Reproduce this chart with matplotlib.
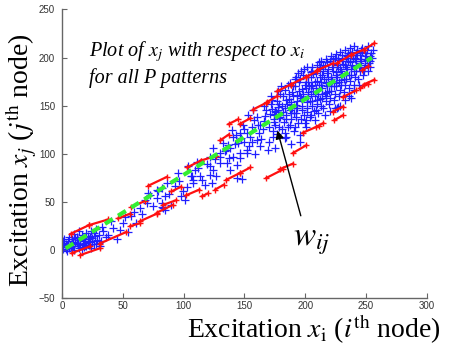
import matplotlib
matplotlib.use('Agg')
import matplotlib.pyplot as plt

# ---- data ----
# blue points near the origin
origin_x = [1, 2, 3, 4, 5, 6, 7, 8, 9, 10,
            11, 12, 13, 14, 15, 16, 17, 18, 19, 20,
            21, 22, 23, 24, 25, 26, 27, 28, 29, 30,
            2, 4, 6, 8, 10, 12, 14, 16, 18, 20,
            22, 24, 26, 28, 30, 32, 34, 36, 3, 7,
            11, 15, 19, 23, 1, 5, 9, 13, 17, 21,
            25, 33, 31, 0, 0.5]
origin_y = [3, 8, 1, 5, 10, 2, 7, 12, 4, 0,
            9, 14, 6, 2, 11, 16, 7, 3, 12, 18,
            9, 5, 14, 20, 10, 6, 15, 22, 11, 8,
            12, -1, 14, 4, 17, 8, 20, 1, 10, 4,
            12, 2, 18, 6, 16, 10, 20, 14, 6, 3,
            13, 5, 8, 9, 10, 4, 9, 11, 13, 15,
            13, 24, 4, 6, 1]

# sparse points in the middle
mid_x = [38, 42, 45, 47.7, 50, 54.5, 57, 61, 64, 66,
         69.6, 71, 72, 75, 78, 78, 79, 82, 82, 82,
         83, 84.7, 84.7, 88, 90, 93, 96, 99.7, 101, 102.5,
         104, 105.8, 106.6, 108, 108, 109, 112, 113.5, 115, 117.6,
         121.7, 121.7, 121.7, 123, 124, 124.4, 127, 130, 130, 130,
         40, 52, 59, 68, 86, 95, 98, 111, 119, 126]
mid_y = [16, 23, 12, 21, 28, 19, 36, 28, 44, 38,
         49, 59, 57.6, 45.5, 54, 63, 61, 64.5, 45, 49,
         43.8, 42, 56, 58, 47, 67, 72, 61, 52, 66,
         87, 76.6, 76.6, 69.7, 73, 83.5, 85, 76.6, 73, 68,
         78, 87, 97, 69.7, 83.5, 106, 76.6, 90.5, 97, 100.8,
         30, 35, 40, 52, 70, 80, 56, 92, 90, 95]

# medium density 130-170
upper_x = [132.6, 134, 135, 135.4, 136.8, 138, 138, 141, 141, 143.5,
           143.6, 145, 146, 146, 146, 148, 152, 152, 152, 156,
           157, 160, 163, 167, 168, 169.6, 150, 155, 158, 162,
           165, 140, 137, 149, 154, 160, 164, 166, 144, 159,
           142, 150, 156, 161, 166, 153, 147, 163]
upper_y = [111, 102.5, 104, 90.5, 109, 106, 83.5, 118, 97, 120,
           75, 111, 121.6, 100.8, 95.6, 74, 121.6, 100.8, 104, 128.4,
           145.7, 114.6, 130, 139, 145.7, 104, 112, 118, 135, 122,
           126, 125, 96, 130, 108, 138, 115, 150, 88, 100,
           110, 126, 112, 130, 134, 140, 116, 108]

# dense cloud 170-257
cloud_x = [170.5, 171.2, 172, 173.4, 171.8, 174, 172.6, 170,
           175.5, 176.2, 177, 178, 176.8, 178.6, 175, 177.5,
           179.5, 180.6, 181.2, 182, 180.2, 182.8, 181.5, 183,
           184.5, 185.2, 186, 186.8, 185.6, 187.4, 184, 187,
           188.5, 189.2, 190, 190.8, 189.6, 191.4, 188, 191,
           192.5, 193.4, 194, 195.2, 194.6, 196, 193, 195.8, 194,
           197, 198.2, 199, 199.8, 198.6, 200, 197.6, 200.6, 199.4,
           201.5, 202.2, 203, 203.8, 202.6, 204.4, 201, 204, 202,
           205.5, 206.3, 207, 207.8, 206.6, 208.4, 205, 208, 206,
           209.5, 210.2, 211, 211.8, 210.6, 212.4, 209, 212, 211,
           213.5, 214.2, 215, 215.8, 214.6, 216.4, 213, 216, 215,
           217.5, 218.2, 219, 219.8, 218.6, 220.4, 217, 220, 218,
           221.5, 222.2, 223, 223.8, 222.6, 224.4, 221, 224, 223,
           225.5, 226.2, 227, 227.8, 226.6, 228.4, 225, 228, 227,
           229.5, 230.2, 231, 231.8, 230.6, 232.4, 229, 232, 230,
           233.5, 234.2, 235, 235.8, 234.6, 236.4, 233, 236, 235,
           237.5, 238.2, 239, 239.8, 238.6, 240.4, 237, 240,
           241.5, 242.2, 243, 243.8, 242.6, 244.4, 241, 244,
           245.5, 246.2, 247, 247.8, 246.6, 245, 248,
           249.5, 250.2, 251, 251.8, 250.6, 252,
           253.5, 254.2, 255, 253, 256,
           226, 227, 238, 196, 188]
cloud_y = [128, 141, 152, 118, 160, 136, 147, 112,
           130, 143, 155, 165, 121, 137, 106, 149,
           138, 150, 126, 160, 170, 133, 144, 116,
           140, 152, 128, 162, 172, 146, 118, 157,
           136, 148, 160, 124, 170, 178, 154, 142,
           142, 155, 132, 165, 175, 120, 148, 160, 184,
           150, 162, 140, 172, 182, 132, 156, 168, 188,
           148, 160, 170, 138, 180, 185, 128, 155, 175,
           155, 165, 145, 175, 183, 135, 170, 160, 190,
           152, 162, 172, 180, 142, 188, 168, 157, 195,
           158, 168, 148, 178, 186, 140, 175, 163, 192,
           160, 170, 180, 152, 188, 145, 175, 165, 195,
           165, 176, 186, 156, 193, 148, 180, 170, 198,
           170, 180, 190, 160, 197, 150, 185, 175, 200,
           172, 183, 193, 164, 199, 156, 188, 178, 203,
           178, 188, 196, 168, 202, 160, 192, 182, 205,
           182, 192, 200, 172, 206, 166, 196, 186,
           186, 196, 203, 178, 208, 172, 200, 190,
           190, 199, 206, 182, 210, 194, 186,
           192, 202, 208, 186, 197, 212,
           196, 205, 200, 190, 208,
           147.5, 149, 158, 112, 110]

# second layer of the dense cloud (between the columns above)
cloud2_x = [173.8, 174.6, 175.2, 173, 174.2,
            178.2, 179, 178.8, 179.4, 178,
            183.2, 184, 183.8, 184.4, 183,
            187.8, 188.6, 188.2, 189, 187.5,
            191.8, 192.6, 192.2, 193, 191.5, 192.4,
            196.2, 197, 196.8, 197.4, 196, 196.6,
            200.8, 201.6, 201.2, 202, 200.5, 201.4,
            204.8, 205.6, 205.2, 206, 204.5, 205.4,
            208.8, 209.6, 209.2, 210, 208.5, 209.4,
            212.8, 213.6, 213.2, 214, 212.5, 213.4,
            216.8, 217.6, 217.2, 218, 216.5, 217.4,
            220.8, 221.6, 221.2, 222, 220.5, 221.4,
            224.8, 225.6, 225.2, 226, 224.5, 225.4,
            228.8, 229.6, 229.2, 230, 228.5,
            232.8, 233.6, 233.2, 234, 232.5,
            236.8, 237.6, 237.2, 238, 236.5,
            240.8, 241.6, 241.2, 242, 240.5,
            244.8, 245.6, 245.2, 246,
            248.8, 249.6, 249.2,
            252.8, 253.6]
cloud2_y = [124, 133, 145, 156, 140,
            128, 140, 152, 162, 146,
            122, 136, 148, 156, 166,
            130, 142, 151, 164, 174,
            128, 138, 151, 161, 170, 180,
            136, 146, 158, 167, 178, 186,
            135, 144, 154, 164, 175, 190,
            140, 150, 162, 172, 180, 186,
            146, 156, 165, 176, 184, 192,
            150, 162, 171, 182, 190, 196,
            155, 164, 174, 184, 191, 199,
            158, 170, 178, 190, 196, 202,
            162, 174, 182, 192, 200, 204,
            166, 177, 186, 196, 206,
            172, 182, 190, 200, 208,
            176, 188, 195, 203, 210,
            180, 191, 198, 205, 212,
            186, 196, 203, 208,
            189, 199, 205,
            194, 202]

# red bound segments (start / end)
red_x0 = [7, 22, 46, 57, 71, 103, 114, 130, 137, 146, 157, 169, 177, 188, 201, 210, 226, 238, 248,
          8, 15, 31, 56, 64, 78, 83, 90, 102, 115, 126, 135, 146,
          168, 179, 190, 198, 209, 223, 224, 231, 245, 248, 247]
red_y0 = [17, 26, 33, 45, 67, 86, 93, 114, 131, 131, 146, 154, 165, 172, 180, 187, 194, 203, 208,
          -3, -5, 7, 25, 30, 39, 47, 61, 57, 56, 63, 73, 80,
          75, 84, 101, 122, 128, 144, 135, 159, 168, 172, 187]
red_x1 = [22, 38, 56, 68, 86, 114, 127, 137, 145, 155, 168, 177, 188, 201, 210, 223, 238, 248, 257,
          23, 31, 53, 64, 78, 91, 94, 98, 113, 120, 133, 146, 155,
          182, 190, 201, 211, 215, 231, 231, 242, 252, 257, 252]
red_y1 = [26, 32, 38, 51, 76, 93, 98, 120, 136, 137, 153, 160, 172, 180, 186, 194, 203, 208, 215,
          4, 2, 19, 28, 38, 47, 52, 66, 63, 59, 68, 80, 86,
          84, 90, 109, 129, 132, 149, 140, 166, 173, 177, 191]

# fitted line
fit_x = [3, 255]
fit_y = [2, 200]

x_ticks = [0, 50, 100, 150, 200, 250, 300]
y_ticks = [-50, 0, 50, 100, 150, 200, 250]

plt.rcParams['mathtext.fontset'] = 'stix'
plt.rcParams['font.family'] = 'Liberation Serif'

fig = plt.figure(figsize=(4.53, 3.47), dpi=100)
ax = fig.add_axes([0.137, 0.140, 0.805, 0.833])

blue_x = origin_x + mid_x + upper_x + cloud_x + cloud2_x
blue_y = origin_y + mid_y + upper_y + cloud_y + cloud2_y
ax.plot(blue_x, blue_y, '+', color='#1f1fff', ms=6, mew=0.9)

for x0, y0, x1, y1 in zip(red_x0, red_y0, red_x1, red_y1):
    ax.plot([x0, x1], [y0, y1], '-+', color='#ff1010', lw=1.6, ms=4, mew=1)

ax.plot(fit_x, fit_y, color='#33ee33', lw=3, ls=(0, (2.2, 1.5)))

ax.set_xlim(0, 300)
ax.set_ylim(-50, 250)
ax.set_xticks(x_ticks)
ax.set_yticks(y_ticks)
for lab in ax.get_xticklabels() + ax.get_yticklabels():
    lab.set_fontfamily('Liberation Sans')
    lab.set_fontsize(7)
    lab.set_color('#333333')
ax.tick_params(direction='in', length=3.5, width=0.8, color='#666666')
ax.tick_params(axis='y', pad=5)
ax.tick_params(axis='x', pad=2)
for side in ['top', 'right']:
    ax.spines[side].set_visible(False)
for side in ['left', 'bottom']:
    ax.spines[side].set_color('#666666')
    ax.spines[side].set_linewidth(1)

# labels
fig.text(0.413, 0.026, r'Excitation $x_{\mathrm{i}}$ ($i^{\mathrm{th}}$ node)', fontsize=20)
fig.text(0.048, 0.54, r'Excitation $x_j$ ($j^{\mathrm{th}}$ node)', fontsize=20,
         rotation=90, ha='center', va='center')

ax.text(22, 201, r'Plot of $x_j$ with respect to $x_i$', fontsize=14.5, style='italic')
ax.text(22, 174, 'for all P patterns', fontsize=14.5, style='italic')

ax.annotate('', xy=(176.6, 127), xytext=(197, 33),
            arrowprops=dict(arrowstyle='-|>', color='black', lw=1,
                            mutation_scale=12))
ax.text(190, 25, r'$w_{ij}$', fontsize=24, va='top')

fig.savefig('out.png', dpi=100)
